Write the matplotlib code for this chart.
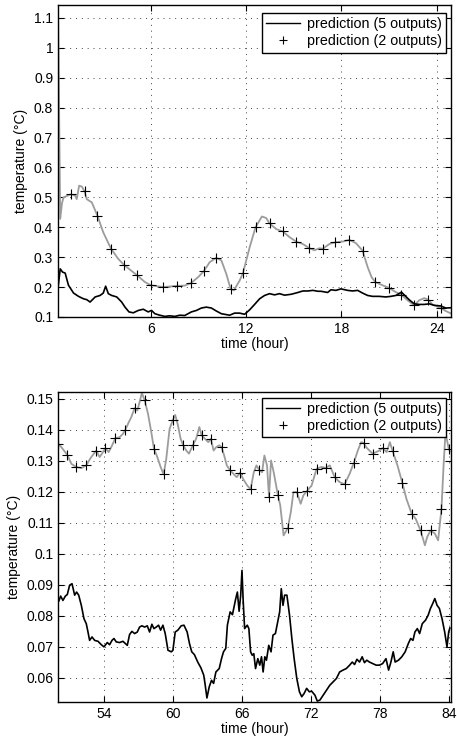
import numpy as np
import matplotlib
matplotlib.use('Agg')
import matplotlib.pyplot as plt
from matplotlib.lines import Line2D

plt.rcParams['font.family'] = ['Liberation Sans', 'DejaVu Sans']
plt.rcParams['font.size'] = 10

# ---- top panel data (hours 0-25) ----
t1_gray = [0.15, 0.29, 0.40, 0.50, 0.96, 1.23, 1.33, 1.48, 1.65, 1.82, 1.96, 2.28, 2.63, 3.0, 3.49,
           3.95, 4.31, 5.14, 5.62, 6.0, 6.77, 7.19, 7.65, 8.13, 8.51, 8.97, 9.33, 9.70, 10.12, 10.44,
           10.75, 11.02, 11.23, 11.59, 11.80, 12.22, 12.59, 12.99, 13.26, 13.47, 13.89, 14.31, 14.73,
           15.15, 15.57, 15.98, 16.30, 16.62, 16.82, 17.24, 17.62, 18.08, 18.49, 18.91, 19.33, 19.65,
           19.9, 20.13, 20.59, 20.97, 21.43, 21.78, 22.16, 22.58, 22.90, 23.21, 23.46, 23.73, 24.25,
           24.57, 24.93]
v1_gray = [1.15, 0.428, 0.48, 0.50, 0.51, 0.506, 0.494, 0.539, 0.536, 0.52, 0.494, 0.483, 0.439, 0.383,
           0.328, 0.294, 0.274, 0.239, 0.217, 0.206, 0.200, 0.202, 0.204, 0.205, 0.213, 0.233, 0.253,
           0.283, 0.298, 0.289, 0.244, 0.194, 0.189, 0.222, 0.247, 0.333, 0.40, 0.436, 0.431, 0.413,
           0.394, 0.386, 0.367, 0.352, 0.344, 0.330, 0.323, 0.330, 0.328, 0.344, 0.35, 0.352, 0.358,
           0.347, 0.322, 0.267, 0.233, 0.217, 0.206, 0.198, 0.183, 0.174, 0.156, 0.139, 0.156, 0.163,
           0.158, 0.142, 0.130, 0.120, 0.111]
t1_mark = [0.96, 1.82, 2.63, 3.49, 4.31, 5.14, 6.0, 6.77, 7.65, 8.51, 9.33, 10.12, 11.02, 11.80, 12.59,
           13.47, 14.31, 15.15, 15.98, 16.82, 17.62, 18.49, 19.33, 20.13, 20.97, 21.78, 22.58, 23.46, 24.25]
v1_mark = [0.51, 0.52, 0.439, 0.328, 0.274, 0.239, 0.206, 0.200, 0.204, 0.213, 0.253, 0.298, 0.194,
           0.247, 0.40, 0.413, 0.386, 0.352, 0.330, 0.328, 0.35, 0.358, 0.322, 0.217, 0.198, 0.174,
           0.139, 0.158, 0.130]
t1_black = [0.17, 0.29, 0.44, 0.6, 0.81, 1.13, 1.44, 1.75, 1.96, 2.17, 2.49, 2.8, 3.0, 3.15, 3.32, 3.53,
            3.85, 4.16, 4.37, 4.62, 4.89, 5.21, 5.52, 5.83, 6.04, 6.25, 6.56, 6.88, 7.19, 7.51, 7.82,
            8.13, 8.55, 8.87, 9.18, 9.49, 9.81, 10.12, 10.44, 10.75, 10.96, 11.27, 11.59, 11.90, 12.22,
            12.53, 12.85, 13.16, 13.47, 13.79, 14.10, 14.42, 14.84, 15.26, 15.57, 15.89, 16.20, 16.52,
            16.71, 17.13, 17.34, 17.65, 17.97, 18.39, 18.70, 19.02, 19.33, 19.65, 19.96, 20.38, 20.80,
            21.11, 21.43, 21.78, 21.99, 22.26, 22.58, 22.90, 23.21, 23.53, 23.84, 24.25, 24.57, 24.93]
v1_black = [0.206, 0.261, 0.25, 0.247, 0.206, 0.18, 0.169, 0.161, 0.158, 0.15, 0.167, 0.172, 0.18,
            0.203, 0.178, 0.172, 0.167, 0.15, 0.133, 0.117, 0.114, 0.122, 0.126, 0.117, 0.122, 0.111,
            0.106, 0.102, 0.104, 0.102, 0.106, 0.105, 0.117, 0.122, 0.13, 0.133, 0.13, 0.12, 0.111,
            0.108, 0.106, 0.113, 0.113, 0.109, 0.124, 0.142, 0.161, 0.172, 0.178, 0.174, 0.178, 0.173,
            0.176, 0.182, 0.187, 0.187, 0.189, 0.186, 0.186, 0.182, 0.191, 0.189, 0.194, 0.189, 0.187,
            0.189, 0.18, 0.172, 0.169, 0.169, 0.167, 0.169, 0.172, 0.183, 0.172, 0.158, 0.144, 0.142,
            0.142, 0.144, 0.139, 0.137, 0.13, 0.131]

# ---- bottom panel data (hours 50-84) ----
t2_gray = [50.0, 50.29, 50.81, 51.16, 51.59, 52.03, 52.46, 52.84, 53.33, 53.62, 53.83, 54.12, 54.41,
           54.70, 54.99, 55.36, 55.65, 55.86, 56.14, 56.38, 56.67, 56.9, 57.1, 57.30, 57.54, 57.83,
           58.12, 58.35, 58.64, 58.93, 59.19, 59.42, 59.71, 60.0, 60.2, 60.43, 60.67, 60.87, 61.16,
           61.40, 61.73, 62.02, 62.30, 62.50, 62.79, 63.08, 63.31, 63.54, 63.77, 64.03, 64.23, 64.46,
           64.69, 64.98, 65.26, 65.55, 65.84, 66.18, 66.47, 66.76, 67.04, 67.27, 67.53, 67.76, 67.96,
           68.19, 68.36, 68.54, 68.77, 69.14, 69.34, 69.63, 70.0, 70.26, 70.49, 70.78, 71.12, 71.35,
           71.64, 72.07, 72.50, 72.93, 73.31, 73.65, 74.08, 74.51, 74.94, 75.38, 75.75, 76.09, 76.38,
           76.59, 76.81, 77.10, 77.39, 77.68, 77.97, 78.25, 78.60, 78.88, 79.11, 79.54, 79.97, 80.32,
           80.78, 81.12, 81.55, 81.93, 82.13, 82.42, 82.79, 83.08, 83.37, 83.57, 83.72, 84.0, 84.1]
v2_gray = [0.1355, 0.1344, 0.1319, 0.129, 0.128, 0.1276, 0.1285, 0.1309, 0.1333, 0.1312, 0.1323, 0.1341,
           0.1328, 0.1349, 0.1373, 0.1376, 0.1387, 0.14, 0.1423, 0.1441, 0.147, 0.1462, 0.1489, 0.1519,
           0.1495, 0.1452, 0.1392, 0.1339, 0.1312, 0.128, 0.1256, 0.1306, 0.1403, 0.1432, 0.1448,
           0.1416, 0.1371, 0.1352, 0.1333, 0.1323, 0.135, 0.1371, 0.1409, 0.1382, 0.1371, 0.136,
           0.1371, 0.1333, 0.1344, 0.135, 0.1344, 0.1317, 0.1285, 0.1269, 0.1258, 0.1247, 0.1261,
           0.1237, 0.1220, 0.1208, 0.1263, 0.1285, 0.1269, 0.1263, 0.1317, 0.1285, 0.1183, 0.1301,
           0.1263, 0.1188, 0.1156, 0.1059, 0.1083, 0.1134, 0.1199, 0.1199, 0.1161, 0.1188, 0.1201,
           0.1220, 0.1274, 0.128, 0.1277, 0.1285, 0.1247, 0.1231, 0.1224, 0.1258, 0.1294, 0.1333,
           0.136, 0.1358, 0.1344, 0.1333, 0.1323, 0.1328, 0.1333, 0.1341, 0.1328, 0.136, 0.1333,
           0.1285, 0.1228, 0.1177, 0.1129, 0.1113, 0.1075, 0.1027, 0.1054, 0.1075, 0.1065, 0.1043,
           0.1145, 0.1296, 0.1392, 0.1339, 0.1330]
t2_mark = [50.0, 50.81, 51.59, 52.46, 53.33, 54.12, 54.99, 55.86, 56.67, 57.54, 58.35, 59.19, 60.0,
           60.87, 61.73, 62.50, 63.31, 64.23, 64.98, 65.84, 66.76, 67.53, 68.36, 69.14, 70.0, 70.78,
           71.64, 72.50, 73.31, 74.08, 74.94, 75.75, 76.59, 77.39, 78.25, 79.11, 79.97, 80.78, 81.55,
           82.42, 83.37, 84.0]
v2_mark = [0.1355, 0.1319, 0.128, 0.1285, 0.1333, 0.1341, 0.1373, 0.14, 0.147, 0.1495, 0.1339, 0.1256,
           0.1432, 0.1352, 0.135, 0.1382, 0.1371, 0.1344, 0.1269, 0.1261, 0.1208, 0.1269, 0.1183,
           0.1188, 0.1083, 0.1199, 0.1201, 0.1274, 0.1277, 0.1247, 0.1224, 0.1294, 0.1358, 0.1323,
           0.1341, 0.1333, 0.1228, 0.1129, 0.1075, 0.1075, 0.1145, 0.1339]
t2_black = [50.0, 50.06, 50.23, 50.43, 50.64, 50.81, 51.01, 51.22, 51.45, 51.62, 51.80, 52.03, 52.26,
            52.46, 52.61, 52.75, 52.96, 53.19, 53.48, 53.77, 54.0, 54.29, 54.49, 54.70, 54.87, 55.07,
            55.36, 55.65, 55.86, 56.03, 56.23, 56.43, 56.67, 56.9, 57.10, 57.30, 57.54, 57.77, 57.97,
            58.17, 58.35, 58.55, 58.75, 58.93, 59.13, 59.33, 59.57, 59.86, 60.0, 60.2, 60.43, 60.72,
            60.96, 61.24, 61.44, 61.64, 61.87, 62.16, 62.44, 62.68, 62.79, 62.96, 63.16, 63.36, 63.54,
            63.74, 64.03, 64.23, 64.40, 64.60, 64.74, 64.98, 65.18, 65.32, 65.47, 65.61, 65.76, 65.90,
            66.01, 66.12, 66.24, 66.47, 66.61, 66.76, 66.90, 67.04, 67.19, 67.39, 67.56, 67.71, 67.85,
            68.0, 68.14, 68.34, 68.54, 68.71, 68.92, 69.12, 69.29, 69.43, 69.58, 69.72, 69.92, 70.15,
            70.35, 70.55, 70.78, 71.01, 71.21, 71.41, 71.64, 71.87, 72.07, 72.36, 72.56, 72.79, 73.08,
            73.36, 73.65, 73.94, 74.23, 74.51, 74.80, 75.09, 75.38, 75.61, 75.81, 76.01, 76.24, 76.47,
            76.67, 76.87, 77.10, 77.39, 77.68, 77.97, 78.25, 78.54, 78.77, 78.97, 79.17, 79.34, 79.63,
            79.92, 80.21, 80.49, 80.69, 80.89, 81.06, 81.27, 81.47, 81.70, 81.98, 82.21, 82.41, 82.61,
            82.79, 82.99, 83.19, 83.42, 83.65, 83.85, 84.0, 84.1]
v2_black = [0.0855, 0.0846, 0.0863, 0.0849, 0.0863, 0.0868, 0.0898, 0.0903, 0.0866, 0.0876, 0.0866,
            0.0833, 0.079, 0.0774, 0.0747, 0.072, 0.0731, 0.072, 0.0717, 0.0706, 0.0699, 0.0713, 0.0706,
            0.072, 0.0726, 0.0715, 0.0713, 0.0717, 0.071, 0.0704, 0.0739, 0.0749, 0.0742, 0.0747,
            0.0763, 0.0767, 0.0763, 0.0767, 0.0747, 0.0772, 0.0758, 0.0763, 0.0769, 0.0753, 0.0769,
            0.0742, 0.0688, 0.0683, 0.0688, 0.0747, 0.0753, 0.0767, 0.0769, 0.0747, 0.071, 0.0683,
            0.0674, 0.065, 0.0631, 0.0608, 0.0581, 0.0534, 0.057, 0.0591, 0.0581, 0.0618, 0.0629,
            0.0661, 0.0683, 0.0694, 0.0769, 0.0812, 0.0803, 0.0828, 0.0855, 0.0876, 0.0814, 0.0866,
            0.0946, 0.0844, 0.0758, 0.0769, 0.0758, 0.0683, 0.0672, 0.0677, 0.0629, 0.0661, 0.064,
            0.0667, 0.0618, 0.0667, 0.0656, 0.0704, 0.0683, 0.0737, 0.0742, 0.078, 0.0812, 0.0887,
            0.0833, 0.0866, 0.0866, 0.0801, 0.0726, 0.0661, 0.0597, 0.0554, 0.0538, 0.0548, 0.0565,
            0.0554, 0.0556, 0.0543, 0.0524, 0.0527, 0.0543, 0.0559, 0.0575, 0.0586, 0.0597, 0.0618,
            0.0624, 0.0629, 0.064, 0.065, 0.0642, 0.0659, 0.065, 0.0667, 0.0648, 0.0656, 0.065, 0.0645,
            0.064, 0.064, 0.0645, 0.0661, 0.0624, 0.065, 0.0683, 0.065, 0.0656, 0.0667, 0.0683, 0.071,
            0.0726, 0.072, 0.0747, 0.0758, 0.0742, 0.0774, 0.0785, 0.0801, 0.0823, 0.0839, 0.0855,
            0.0833, 0.0823, 0.079, 0.0747, 0.0699, 0.0747, 0.0760]

x1_ticks = [6, 12, 18, 24]
y1_ticks = [0.1, 0.2, 0.3, 0.4, 0.5, 0.6, 0.7, 0.8, 0.9, 1.0, 1.1]
y1_labels = ['0.1', '0.2', '0.3', '0.4', '0.5', '0.6', '0.7', '0.8', '0.9', '1', '1.1']
x2_ticks = [54, 60, 66, 72, 78, 84]
y2_ticks = [0.06, 0.07, 0.08, 0.09, 0.10, 0.11, 0.12, 0.13, 0.14, 0.15]
y2_labels = ['0.06', '0.07', '0.08', '0.09', '0.1', '0.11', '0.12', '0.13', '0.14', '0.15']
legend_labels = ['prediction (5 outputs)', 'prediction (2 outputs)']

fig = plt.figure(figsize=(4.57, 7.42), dpi=100)
ax1 = fig.add_axes([58 / 457, 1 - 317 / 742, 393 / 457, 312 / 742])
ax2 = fig.add_axes([58 / 457, 1 - 702 / 742, 393 / 457, 310 / 742])

panels = [
    (ax1, t1_gray, v1_gray, t1_mark, v1_mark, t1_black, v1_black, (0.15, 24.9), (0.1, 1.143),
     x1_ticks, y1_ticks, y1_labels, 0.974),
    (ax2, t2_gray, v2_gray, t2_mark, v2_mark, t2_black, v2_black, (50, 84.2), (0.0521, 0.1522),
     x2_ticks, y2_ticks, y2_labels, 0.981),
]

for ax, tg, vg, tm, vm, tb, vb, xl, yl, xt, yt, ylab, leg_top in panels:
    ax.plot(tg, vg, color='#9c9c9c', lw=1.3, zorder=2)
    ax.plot(tb, vb, color='black', lw=1.2, zorder=3)
    ax.plot(tm, vm, ls='none', marker='+', color='black', ms=7, mew=0.8, zorder=4)
    ax.set_xlim(xl)
    ax.set_ylim(yl)
    ax.set_xticks(xt)
    ax.set_yticks(yt)
    ax.set_yticklabels(ylab)
    ax.grid(True, ls=(0, (1, 5)), color='#444444', lw=0.7)
    ax.tick_params(direction='in', top=True, right=True, length=4, width=0.8, labelsize=10)
    for s in ax.spines.values():
        s.set_linewidth(1.0)
    ax.set_xlabel('time (hour)', fontsize=10, labelpad=1)
    ax.set_ylabel('temperature (°C)', fontsize=10, labelpad=4)
    handles = [Line2D([], [], color='black', lw=1.0),
               Line2D([], [], ls='none', marker='+', color='black', ms=6, mew=0.8)]
    leg = ax.legend(handles, legend_labels,
                    loc='upper right', bbox_to_anchor=(0.987, leg_top), borderaxespad=0,
                    fancybox=False, framealpha=1, edgecolor='black', fontsize=10.3,
                    handlelength=2.4, handletextpad=0.45, borderpad=0.3, labelspacing=0.2)
    leg.get_frame().set_linewidth(1.0)

fig.savefig('out.png', dpi=100)
